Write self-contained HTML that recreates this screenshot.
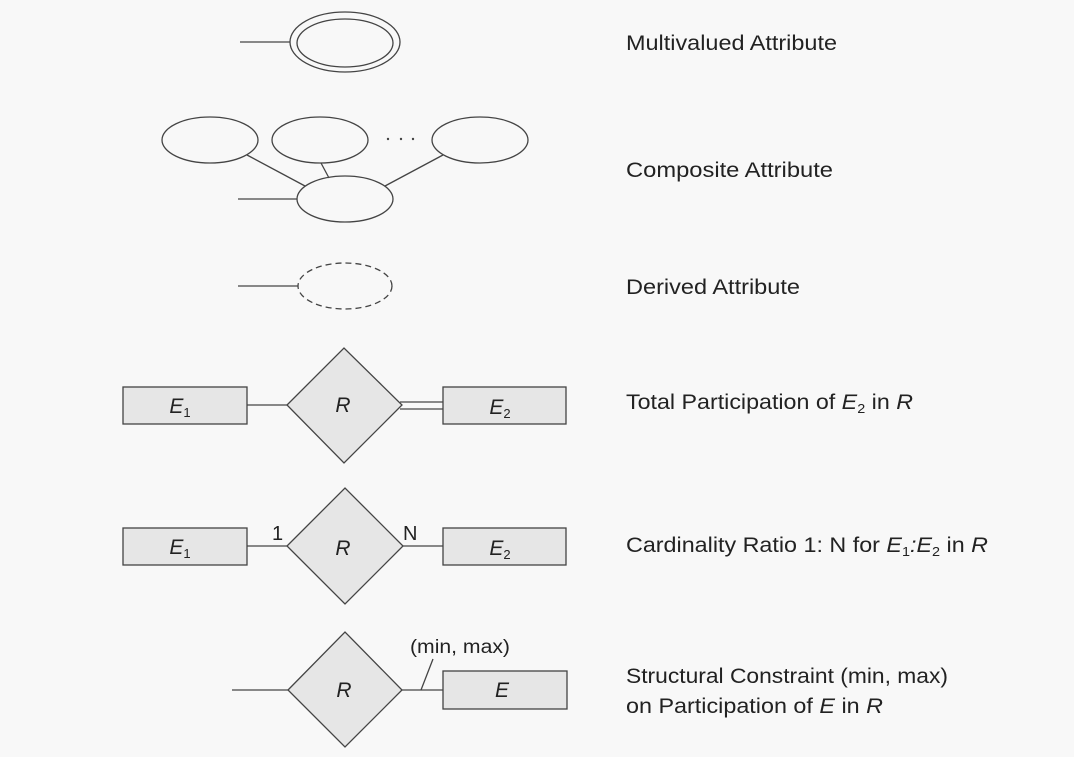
<!DOCTYPE html>
<html><head><meta charset="utf-8"><style>
html,body{margin:0;padding:0;background:#f8f8f8;}
svg{display:block;}
text{font-family:"Liberation Sans",sans-serif;fill:#222;}
</style></head><body>
<svg width="1074" height="757" viewBox="0 0 1074 757" xmlns="http://www.w3.org/2000/svg">
<rect width="1074" height="757" fill="#f8f8f8"/>
<g stroke="#444" stroke-width="1.3" fill="none">
<line x1="240" y1="42" x2="290" y2="42"/>
<ellipse cx="345" cy="42" rx="55" ry="30"/>
<ellipse cx="345" cy="43" rx="48" ry="24"/>
<ellipse cx="210" cy="140" rx="48" ry="23"/>
<ellipse cx="320" cy="140" rx="48" ry="23"/>
<ellipse cx="480" cy="140" rx="48" ry="23"/>
<ellipse cx="345" cy="199" rx="48" ry="23"/>
<line x1="238" y1="199" x2="297" y2="199"/>
<line x1="247" y1="155" x2="305" y2="186"/>
<line x1="321" y1="163" x2="329" y2="178"/>
<line x1="443" y1="155" x2="385" y2="186"/>
<line x1="238" y1="286" x2="298" y2="286"/>
<ellipse cx="345" cy="286" rx="47" ry="23" stroke-dasharray="6,4"/>
</g>
<g fill="#444"><circle cx="388" cy="139" r="1.2"/><circle cx="401" cy="139" r="1.2"/><circle cx="413" cy="139" r="1.2"/></g>
<g stroke="#444" stroke-width="1.3" fill="#e6e6e6">
<line x1="247" y1="405" x2="287" y2="405"/>
<line x1="400" y1="402" x2="443" y2="402"/>
<line x1="400" y1="409" x2="443" y2="409"/>
<rect x="123" y="387" width="124" height="37"/>
<polygon points="287,405 344,348 402,405 344,463"/>
<rect x="443" y="387" width="123" height="37"/>
<line x1="247" y1="546" x2="287" y2="546"/>
<line x1="403" y1="546" x2="443" y2="546"/>
<rect x="123" y="528" width="124" height="37"/>
<polygon points="287,546 345,488 403,546 345,604"/>
<rect x="443" y="528" width="123" height="37"/>
<line x1="232" y1="690" x2="288" y2="690"/>
<line x1="402" y1="690" x2="443" y2="690"/>
<line x1="421" y1="690" x2="433" y2="659"/>
<polygon points="288,690 345,632 402,690 345,747"/>
<rect x="443" y="671" width="124" height="38"/>
</g>
<g font-size="21" font-style="italic" text-anchor="middle">
<text x="180" y="413">E<tspan font-size="13" dy="4" font-style="normal">1</tspan></text>
<text x="343" y="412">R</text>
<text x="500" y="414">E<tspan font-size="13" dy="4" font-style="normal">2</tspan></text>
<text x="180" y="554">E<tspan font-size="13" dy="4" font-style="normal">1</tspan></text>
<text x="343" y="555">R</text>
<text x="500" y="555">E<tspan font-size="13" dy="4" font-style="normal">2</tspan></text>
<text x="344" y="697">R</text>
<text x="502" y="697">E</text>
</g>
<text x="272" y="540" font-size="20">1</text>
<text x="403" y="540" font-size="20">N</text>
<text x="410" y="653" font-size="19" textLength="100" lengthAdjust="spacingAndGlyphs">(min, max)</text>
<g font-size="21">
<text x="626" y="50" textLength="211" lengthAdjust="spacingAndGlyphs">Multivalued Attribute</text>
<text x="626" y="177" textLength="207" lengthAdjust="spacingAndGlyphs">Composite Attribute</text>
<text x="626" y="294" textLength="174" lengthAdjust="spacingAndGlyphs">Derived Attribute</text>
<text x="626" y="409" textLength="287" lengthAdjust="spacingAndGlyphs">Total Participation of <tspan font-style="italic">E</tspan><tspan font-size="13" dy="4">2</tspan><tspan dy="-4"> in </tspan><tspan font-style="italic">R</tspan></text>
<text x="626" y="552" textLength="362" lengthAdjust="spacingAndGlyphs">Cardinality Ratio 1: N for <tspan font-style="italic">E</tspan><tspan font-size="13" dy="4">1</tspan><tspan dy="-4" font-style="italic">:E</tspan><tspan font-size="13" dy="4">2</tspan><tspan dy="-4"> in </tspan><tspan font-style="italic">R</tspan></text>
<text x="626" y="683" textLength="322" lengthAdjust="spacingAndGlyphs">Structural Constraint (min, max)</text>
<text x="626" y="713" textLength="257" lengthAdjust="spacingAndGlyphs">on Participation of <tspan font-style="italic">E</tspan> in <tspan font-style="italic">R</tspan></text>
</g>
</svg>
</body></html>
